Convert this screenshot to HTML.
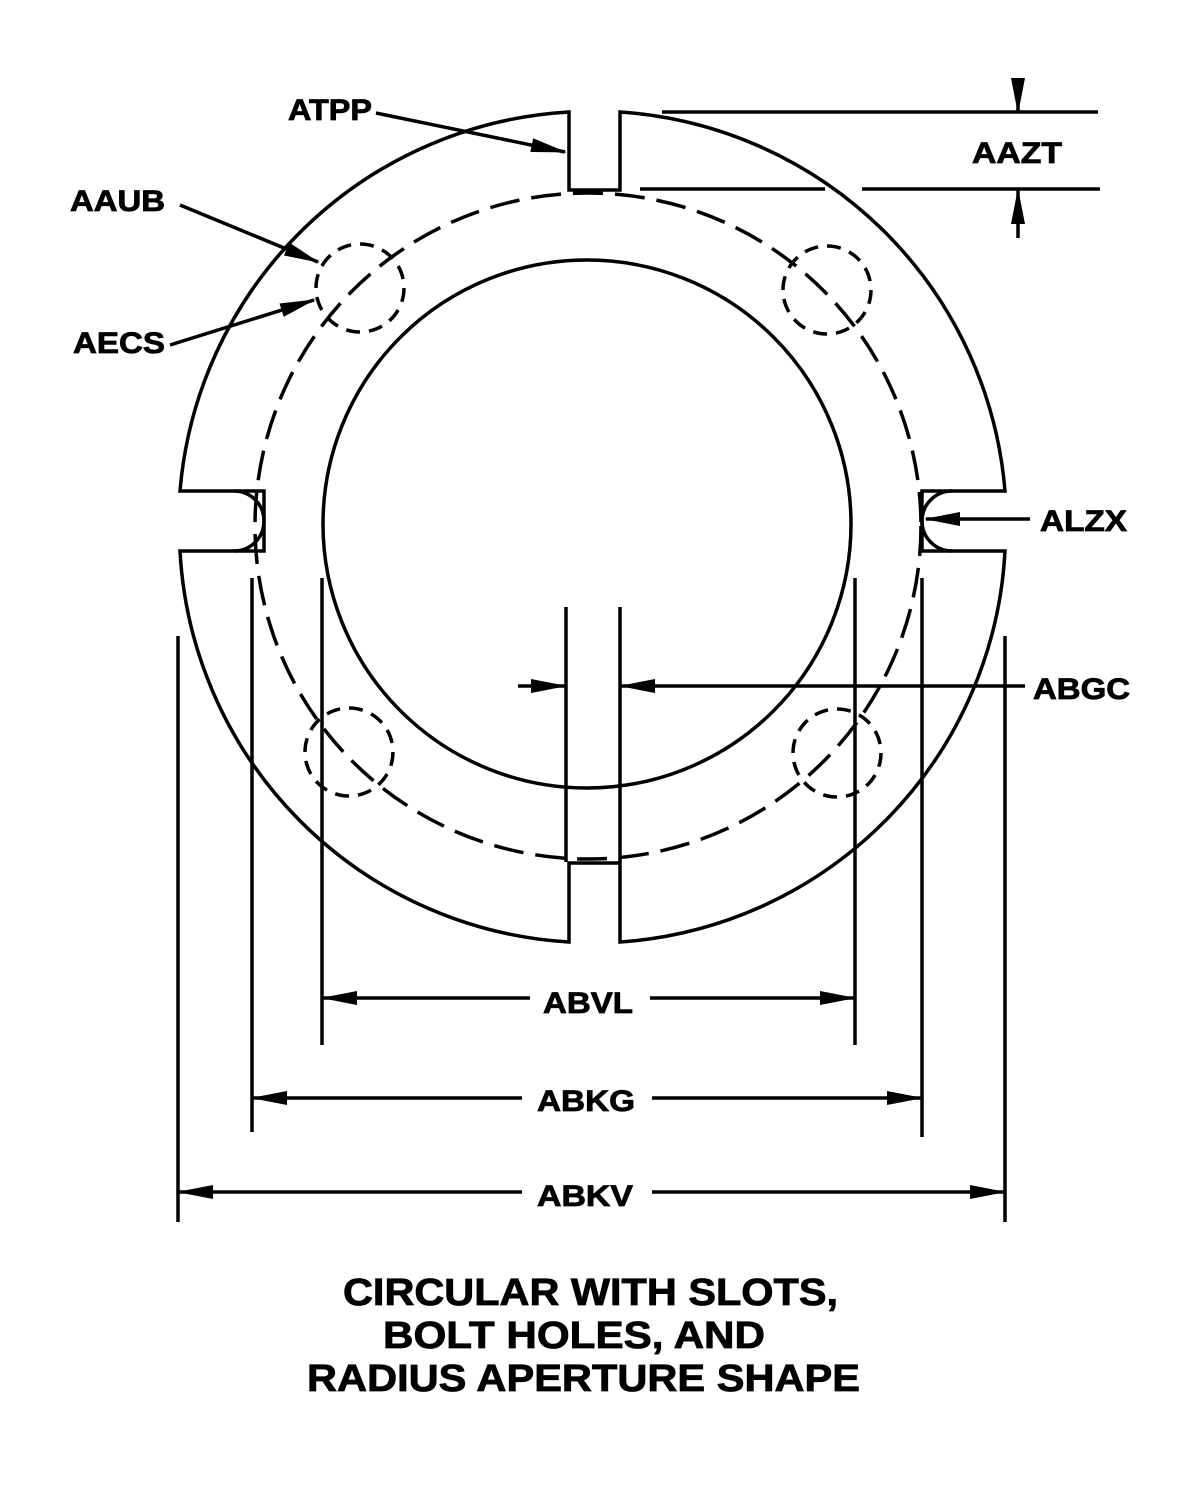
<!DOCTYPE html>
<html><head><style>
html,body{margin:0;padding:0;background:#fff;}
svg{display:block}
text{font-family:"Liberation Sans",sans-serif;font-weight:bold;fill:#000;stroke:#000;stroke-width:0.8}
</style></head><body>
<svg width="1200" height="1500" viewBox="0 0 1200 1500" xmlns="http://www.w3.org/2000/svg">
<defs>
<marker id="a" markerWidth="36" markerHeight="14" refX="34" refY="7" orient="auto" markerUnits="userSpaceOnUse">
<path d="M0,0 L36,7 L0,14 Z" fill="#000"/></marker>
</defs>
<g fill="none" stroke="#000" stroke-width="3.5">
<path d="M620,112 A414,414 0 0 1 1005,491 L922,491 L922,551 L1005,551 A414,414 0 0 1 620,942 L620,863 L569,863 L569,942 A414,414 0 0 1 180,551 L264,551 L264,491 L180,491 A414,414 0 0 1 569,112 L569,190 L620,190 Z"/>
<path d="M234,491 A30,30 0 0 1 234,551"/>
<path d="M952,491 A30,30 0 0 0 952,551"/>
<circle cx="587" cy="524" r="264"/>
<circle cx="588" cy="526" r="333" stroke-dasharray="30,12"/>
<circle cx="360" cy="288" r="44" stroke-dasharray="14,9"/>
<circle cx="827" cy="290" r="44" stroke-dasharray="14,9"/>
<circle cx="349" cy="752" r="44" stroke-dasharray="14,9"/>
<circle cx="837" cy="753" r="44" stroke-dasharray="14,9"/>
<line x1="662" y1="112" x2="1098" y2="112"/>
<line x1="640" y1="189" x2="825" y2="189"/>
<line x1="862" y1="189" x2="1100" y2="189"/>
<line x1="1018" y1="90" x2="1018" y2="112" marker-end="url(#a)"/>
<line x1="1018" y1="238" x2="1018" y2="190" marker-end="url(#a)"/>
<line x1="376" y1="113" x2="565" y2="152" marker-end="url(#a)"/>
<line x1="180" y1="205" x2="318" y2="262" marker-end="url(#a)"/>
<line x1="170" y1="345" x2="314" y2="300" marker-end="url(#a)"/>
<line x1="1030" y1="519" x2="926" y2="519" marker-end="url(#a)"/>
<line x1="566" y1="607" x2="566" y2="862"/>
<line x1="620" y1="607" x2="620" y2="862"/>
<line x1="518" y1="686" x2="565" y2="686" marker-end="url(#a)"/>
<line x1="1025" y1="686" x2="621" y2="686" marker-end="url(#a)"/>
<line x1="322" y1="578" x2="322" y2="1045"/>
<line x1="855" y1="578" x2="855" y2="1045"/>
<line x1="252" y1="578" x2="252" y2="1132"/>
<line x1="922" y1="578" x2="922" y2="1137"/>
<line x1="178" y1="636" x2="178" y2="1222"/>
<line x1="1005" y1="636" x2="1005" y2="1222"/>
<line x1="530" y1="998" x2="323" y2="998" marker-end="url(#a)"/>
<line x1="650" y1="998" x2="854" y2="998" marker-end="url(#a)"/>
<line x1="522" y1="1098" x2="253" y2="1098" marker-end="url(#a)"/>
<line x1="652" y1="1098" x2="921" y2="1098" marker-end="url(#a)"/>
<line x1="522" y1="1192" x2="179" y2="1192" marker-end="url(#a)"/>
<line x1="652" y1="1192" x2="1004" y2="1192" marker-end="url(#a)"/>
</g>
<g font-size="30">
<text x="288" y="120" textLength="84" lengthAdjust="spacingAndGlyphs">ATPP</text>
<text x="70" y="211" textLength="95" lengthAdjust="spacingAndGlyphs">AAUB</text>
<text x="73" y="353" textLength="92" lengthAdjust="spacingAndGlyphs">AECS</text>
<text x="972" y="163" textLength="90" lengthAdjust="spacingAndGlyphs">AAZT</text>
<text x="1040" y="531" textLength="87" lengthAdjust="spacingAndGlyphs">ALZX</text>
<text x="1033" y="699" textLength="97" lengthAdjust="spacingAndGlyphs">ABGC</text>
<text x="543" y="1013" textLength="90" lengthAdjust="spacingAndGlyphs">ABVL</text>
<text x="537" y="1111" textLength="98" lengthAdjust="spacingAndGlyphs">ABKG</text>
<text x="537" y="1206" textLength="96" lengthAdjust="spacingAndGlyphs">ABKV</text>
</g>
<g font-size="38">
<text x="343" y="1305" textLength="495" lengthAdjust="spacingAndGlyphs">CIRCULAR WITH SLOTS,</text>
<text x="383" y="1348" textLength="382" lengthAdjust="spacingAndGlyphs">BOLT HOLES, AND</text>
<text x="307" y="1391" textLength="553" lengthAdjust="spacingAndGlyphs">RADIUS APERTURE SHAPE</text>
</g>
</svg>
</body></html>
